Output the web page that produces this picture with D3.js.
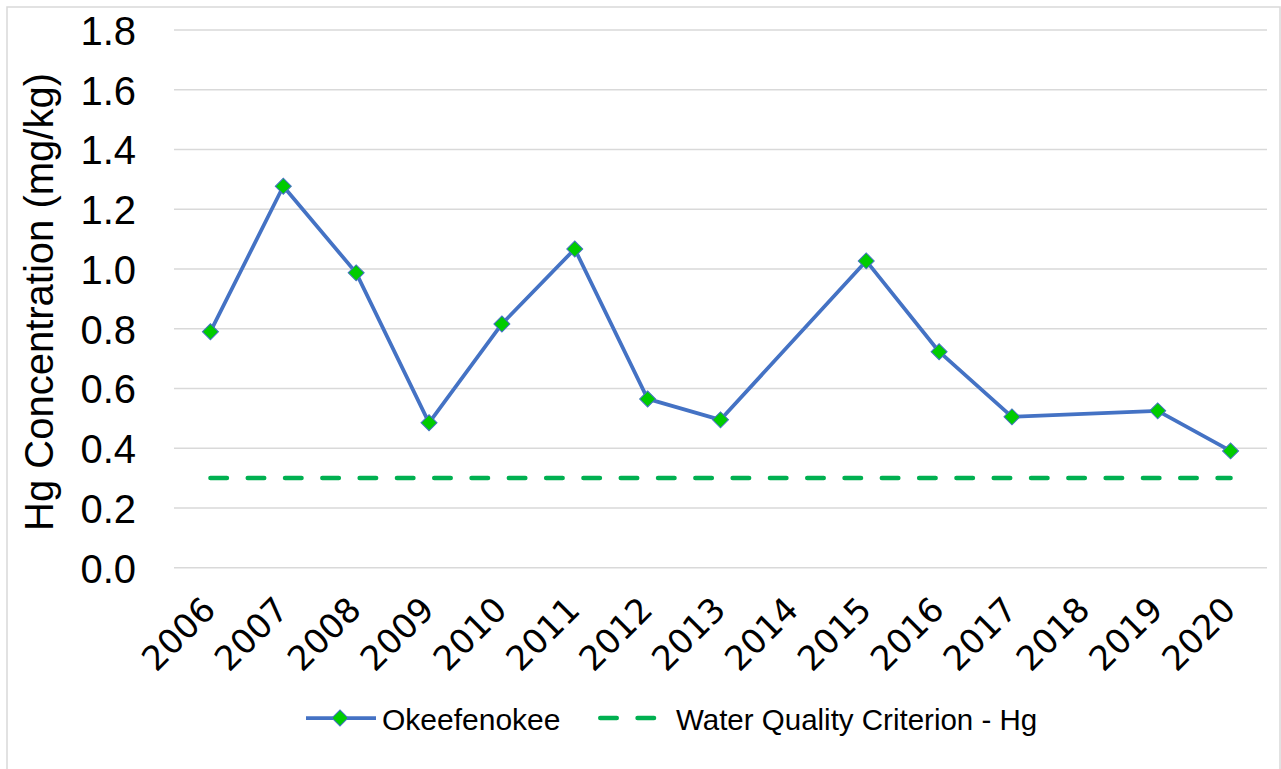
<!DOCTYPE html>
<html>
<head>
<meta charset="utf-8">
<script src="https://cdnjs.cloudflare.com/ajax/libs/d3/7.8.5/d3.min.js"></script>
<style>
  html, body { margin: 0; padding: 0; background: #fff; }
  svg { display: block; }
</style>
</head>
<body>
<svg id="chart" width="1281" height="769"></svg>
<script>
// Sampling years (2014 and 2018 have no sample)
const years = ["2006","2007","2008","2009","2010","2011","2012","2013","2014","2015","2016","2017","2018","2019","2020"];
// Mean Hg concentration in fish tissue, mg/kg
const okeefenokee = [0.79, 1.277, 0.987, 0.485, 0.816, 1.067, 0.565, 0.495, null, 1.027, 0.723, 0.505, null, 0.525, 0.391];
// Criterion value, mg/kg
const criterion = [0.3, 0.3, 0.3, 0.3, 0.3, 0.3, 0.3, 0.3, 0.3, 0.3, 0.3, 0.3, 0.3, 0.3, 0.3];
const yTicks = [0, 0.2, 0.4, 0.6, 0.8, 1.0, 1.2, 1.4, 1.6, 1.8];

const svg = d3.select("#chart");
const plot = { left: 174, right: 1267, top: 30, bottom: 567.7 };
const sans = "Liberation Sans, Arial, sans-serif";

// Outer chart border
svg.append("rect")
  .attr("x", 7).attr("y", 7).attr("width", 1273).attr("height", 770)
  .attr("fill", "#fff").attr("stroke", "#D9D9D9").attr("stroke-width", 1.5);

const x = d3.scaleBand().domain(years).range([plot.left, plot.right]).padding(0);
const y = d3.scaleLinear().domain([0, 1.8]).range([plot.bottom, plot.top]);
const cx = d => x(d) + x.bandwidth() / 2;

// Horizontal gridlines
svg.append("g")
  .selectAll("line").data(yTicks).join("line")
  .attr("x1", plot.left).attr("x2", plot.right)
  .attr("y1", d => y(d)).attr("y2", d => y(d))
  .attr("stroke", "#D9D9D9").attr("stroke-width", 1.5);

// Y axis tick labels
const yAxis = d3.axisLeft(y).tickValues(yTicks).tickFormat(d3.format(".1f")).tickSize(0).tickPadding(0);
const yg = svg.append("g").attr("transform", "translate(136,0)").call(yAxis);
yg.select(".domain").remove();
yg.attr("font-family", sans).attr("font-size", 40);
yg.selectAll("text").attr("fill", "#000").attr("dy", "0.36em");

// Y axis title
svg.append("text")
  .attr("transform", `translate(53,${302}) rotate(-90)`)
  .attr("text-anchor", "middle")
  .attr("font-family", sans)
  .attr("font-size", 40).attr("fill", "#000")
  .text("Hg Concentration (mg/kg)");

// X axis labels, rotated
const xAxis = d3.axisBottom(x).tickSize(0).tickPadding(0);
const xg = svg.append("g").attr("transform", `translate(0,${plot.bottom})`).call(xAxis);
xg.select(".domain").remove();
xg.attr("font-family", "DejaVu Sans, sans-serif").attr("font-size", 34);
xg.selectAll("text")
  .attr("fill", "#000")
  .attr("text-anchor", "end")
  .attr("y", 0).attr("dy", 0)
  .attr("transform", "translate(7,44) rotate(-45)");

// Criterion dashed line
const critLine = d3.line().x((d, i) => cx(years[i])).y(d => y(d));
svg.append("path")
  .datum(criterion)
  .attr("d", critLine)
  .attr("fill", "none").attr("stroke", "#00B050").attr("stroke-width", 4.5)
  .attr("stroke-dasharray", "16.5,20.8").attr("stroke-linecap", "round");

// Okeefenokee series: gaps are bridged by connecting only the sampled years
const sampled = years.map((yr, i) => ({ yr, v: okeefenokee[i] })).filter(d => d.v !== null);
const seriesLine = d3.line().x(d => cx(d.yr)).y(d => y(d.v));
svg.append("path")
  .datum(sampled)
  .attr("d", seriesLine)
  .attr("fill", "none").attr("stroke", "#4472C4").attr("stroke-width", 3.75)
  .attr("stroke-linejoin", "round");

const diamond = d3.symbol().type(d3.symbolSquare).size(128);
svg.append("g").selectAll("path").data(sampled).join("path")
  .attr("d", diamond)
  .attr("transform", d => `translate(${cx(d.yr)},${y(d.v)}) rotate(45)`)
  .attr("fill", "#00CC00").attr("stroke", "#4472C4").attr("stroke-width", 1);

// Legend
const lg = svg.append("g").attr("transform", "translate(0,718)");
lg.append("line").attr("x1", 306).attr("x2", 376).attr("y1", 0).attr("y2", 0)
  .attr("stroke", "#4472C4").attr("stroke-width", 3.75);
lg.append("path").attr("d", diamond).attr("transform", "translate(340,0) rotate(45)")
  .attr("fill", "#00CC00").attr("stroke", "#4472C4").attr("stroke-width", 1);
lg.append("text").attr("x", 382).attr("y", 12)
  .attr("font-family", sans)
  .attr("font-size", 30).attr("fill", "#000").text("Okeefenokee");
lg.append("line").attr("x1", 600.25).attr("x2", 655).attr("y1", 0).attr("y2", 0)
  .attr("stroke", "#00B050").attr("stroke-width", 4.5)
  .attr("stroke-dasharray", "16.5,20.8").attr("stroke-linecap", "round");
lg.append("text").attr("x", 676).attr("y", 12)
  .attr("font-family", sans)
  .attr("font-size", 29.5).attr("fill", "#000").text("Water Quality Criterion - Hg");
</script>
</body>
</html>
